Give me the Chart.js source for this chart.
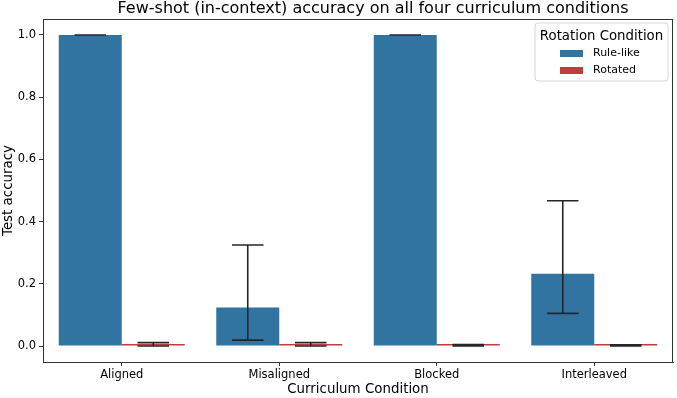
<!DOCTYPE html>
<html>
<head>
<meta charset="utf-8">
<script src="https://cdn.jsdelivr.net/npm/chart.js@4/dist/chart.umd.min.js"></script>
<style>
html,body{margin:0;padding:0;background:#fff;}
#wrap{width:677px;height:398px;position:relative;}
</style>
</head>
<body>
<div id="wrap"><canvas id="c" width="677" height="398"></canvas></div>
<script>
const categories = ['Aligned', 'Misaligned', 'Blocked', 'Interleaved'];
const seriesNames = ['Rule-like', 'Rotated'];
const ruleLike = [1.0, 0.124, 1.0, 0.232];
const ruleLikeLow = [1.0, 0.019, 1.0, 0.105];
const ruleLikeHigh = [1.0, 0.325, 1.0, 0.467];
const rotated = [0.004, 0.004, 0.002, 0.002];
const rotatedLow = [0.0, 0.0, 0.0, 0.0];
const rotatedHigh = [0.011, 0.011, 0.005, 0.004];
const yTicks = [0.0, 0.2, 0.4, 0.6, 0.8, 1.0];
const titleText = 'Few-shot (in-context) accuracy on all four curriculum conditions';

const FONT = "'DejaVu Sans', sans-serif";
const colors = ['#3274a1', '#c03d3e'];
const lows = [ruleLikeLow, rotatedLow];
const highs = [ruleLikeHigh, rotatedHigh];

const errorBars = {
  id: 'errorBars',
  afterDatasetsDraw(chart) {
    const ctx = chart.ctx;
    const ys = chart.scales.y;
    ctx.save();
    ctx.strokeStyle = '#262626';
    ctx.lineWidth = 1.6;
    chart.data.datasets.forEach((ds, di) => {
      const meta = chart.getDatasetMeta(di);
      meta.data.forEach((bar, i) => {
        const x = bar.x;
        const half = bar.width / 4;
        const y1 = ys.getPixelForValue(lows[di][i]);
        const y2 = ys.getPixelForValue(highs[di][i]);
        ctx.beginPath();
        ctx.moveTo(x, y1); ctx.lineTo(x, y2);
        ctx.moveTo(x - half, y1); ctx.lineTo(x + half, y1);
        ctx.moveTo(x - half, y2); ctx.lineTo(x + half, y2);
        ctx.stroke();
      });
    });
    ctx.restore();
  }
};

const frameAndLegend = {
  id: 'frameAndLegend',
  afterDraw(chart) {
    const ctx = chart.ctx;
    const a = chart.chartArea;
    ctx.save();
    ctx.strokeStyle = '#333';
    ctx.lineWidth = 1;
    ctx.strokeRect(Math.round(a.left) + 0.5, Math.round(a.top) + 0.5, Math.round(a.right - a.left) - 1, Math.round(a.bottom - a.top));
    // title
    ctx.fillStyle = '#000';
    ctx.textAlign = 'center';
    ctx.textBaseline = 'middle';
    ctx.font = '16px ' + FONT;
    ctx.fillText(titleText, 373, 9);
    // legend
    const lx = 535, ly = 23, lw = 133, lh = 58, r = 3;
    ctx.fillStyle = 'rgba(255,255,255,0.8)';
    ctx.strokeStyle = '#d6d6d6';
    ctx.beginPath();
    ctx.moveTo(lx + r, ly);
    ctx.arcTo(lx + lw, ly, lx + lw, ly + lh, r);
    ctx.arcTo(lx + lw, ly + lh, lx, ly + lh, r);
    ctx.arcTo(lx, ly + lh, lx, ly, r);
    ctx.arcTo(lx, ly, lx + lw, ly, r);
    ctx.closePath();
    ctx.fill();
    ctx.stroke();
    ctx.fillStyle = '#000';
    ctx.textBaseline = 'middle';
    ctx.textAlign = 'center';
    ctx.font = '13.3px ' + FONT;
    ctx.fillText('Rotation Condition', lx + lw / 2, 37);
    ctx.textAlign = 'left';
    ctx.font = '11px ' + FONT;
    seriesNames.forEach((n, i) => {
      const yy = 53 + i * 17;
      ctx.fillStyle = colors[i];
      ctx.fillRect(560, yy - 3, 23, 7);
      ctx.fillStyle = '#000';
      ctx.fillText(n, 593, yy + 0.5);
    });
    ctx.restore();
  }
};

new Chart(document.getElementById('c'), {
  type: 'bar',
  data: {
    labels: categories,
    datasets: [
      { label: seriesNames[0], data: ruleLike, backgroundColor: colors[0], borderWidth: 0 },
      { label: seriesNames[1], data: rotated, backgroundColor: colors[1], borderWidth: 0, minBarLength: 2 }
    ]
  },
  options: {
    responsive: false,
    animation: false,
    devicePixelRatio: 1,
    layout: { padding: { left: 0, right: 4, top: 19, bottom: 0 } },
    datasets: { bar: { categoryPercentage: 0.8, barPercentage: 1.0 } },
    plugins: {
      legend: { display: false },
      tooltip: { enabled: false },
      title: { display: false }
    },
    scales: {
      x: {
        grid: { display: true, drawOnChartArea: false, offset: false, tickLength: 4, color: '#333' },
        border: { display: true, color: '#333', width: 1 },
        ticks: { color: '#000', font: { family: FONT, size: 11.5 }, padding: 2, maxRotation: 0 },
        title: { display: true, text: 'Curriculum Condition', color: '#000', font: { family: FONT, size: 13.4 }, padding: { top: 0, bottom: 0 } },
        afterFit(s) { s.height = 36; }
      },
      y: {
        min: -0.0514,
        max: 1.0514,
        afterBuildTicks(s) { s.ticks = yTicks.map(v => ({ value: v })); },
        grid: { display: true, drawOnChartArea: false, tickLength: 4, color: '#333' },
        border: { display: true, color: '#333', width: 1 },
        ticks: { color: '#000', font: { family: FONT, size: 11.5 }, padding: 3, callback: v => Number(v).toFixed(1) },
        title: { display: true, text: 'Test accuracy', color: '#000', font: { family: FONT, size: 13.4 }, padding: { top: 0, bottom: 0 } },
        afterFit(s) { s.width = 43; }
      }
    }
  },
  plugins: [errorBars, frameAndLegend]
});
</script>
</body>
</html>
